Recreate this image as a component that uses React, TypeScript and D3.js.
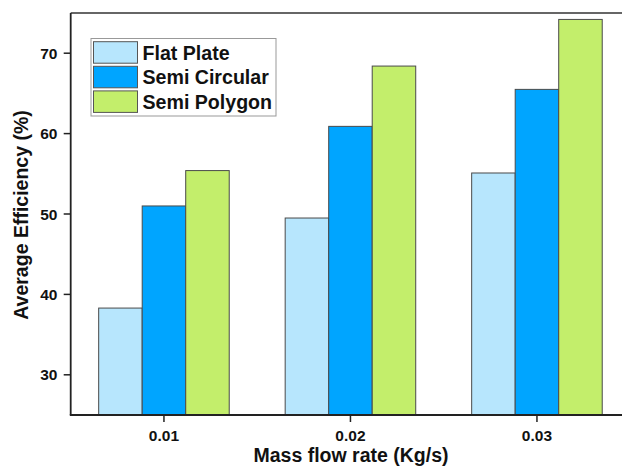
import React from "react";
import * as d3 from "d3";

const categories = ["0.01", "0.02", "0.03"];
const seriesNames = ["Flat Plate", "Semi Circular", "Semi Polygon"];
const flatPlate = [38.3, 49.5, 55.1];
const semiCircular = [51.0, 60.9, 65.5];
const semiPolygon = [55.4, 68.4, 74.2];
const yTicks = [30, 40, 50, 60, 70];
const colors = ["#B7E6FD", "#00A5FF", "#C3EE6B"];

const W = 622;
const H = 467;
const FONT = "'Liberation Sans', Arial, Helvetica, sans-serif";

export default function App() {
  const left = 70.7, right = 630.2, top = 13, bottom = 415;
  const series = [flatPlate, semiCircular, semiPolygon];
  const x = d3.scaleBand<string>().domain(categories).range([left, right]).padding(0);
  const groupW = x.bandwidth() * 0.7;
  const xs = d3.scaleBand<string>().domain(seriesNames).range([0, groupW]).padding(0);
  const y = d3.scaleLinear().domain([25, 75]).range([bottom, top]);

  const legX = 91, legY = 38.5, legW = 185, legH = 77.5;
  const rowH = 24.6;

  return (
    <svg width={W} height={H} style={{ position: "absolute", left: 0, top: 0 }} fontFamily={FONT}>
      <rect x={0} y={0} width={W} height={H} fill="#fff" />
      {/* bars */}
      {categories.map((c, ci) => {
        const gx = (x(c) as number) + x.bandwidth() / 2 - groupW / 2;
        return seriesNames.map((s, si) => {
          const v = series[si][ci];
          return (
            <rect
              key={c + s}
              x={gx + (xs(s) as number)}
              y={y(v)}
              width={xs.bandwidth()}
              height={bottom - y(v)}
              fill={colors[si]}
              stroke="#4a4a4a"
              strokeWidth={1}
            />
          );
        });
      })}
      {/* frame */}
      <line x1={left} x2={right} y1={top} y2={top} stroke="#333" strokeWidth={1.5} />
      <line x1={right} x2={right} y1={top} y2={bottom} stroke="#333" strokeWidth={1.5} />
      <line x1={left} x2={left} y1={top} y2={bottom} stroke="#222" strokeWidth={1.8} />
      <line x1={left - 0.9} x2={right} y1={bottom} y2={bottom} stroke="#222" strokeWidth={1.8} />
      {/* y ticks */}
      {yTicks.map((t) => (
        <g key={t}>
          <line x1={left - 7} x2={left} y1={y(t)} y2={y(t)} stroke="#222" strokeWidth={1.5} />
          <text x={57.5} y={y(t)} dy="0.36em" textAnchor="end" fontSize={15.5} fontWeight="bold" fill="#111">
            {t}
          </text>
        </g>
      ))}
      {/* x ticks */}
      {categories.map((c) => {
        const cx = (x(c) as number) + x.bandwidth() / 2;
        return (
          <g key={c}>
            <line x1={cx} x2={cx} y1={bottom} y2={bottom + 7} stroke="#222" strokeWidth={1.5} />
            <text x={cx} y={441} textAnchor="middle" fontSize={15.5} fontWeight="bold" fill="#111">
              {c}
            </text>
          </g>
        );
      })}
      {/* axis titles */}
      <text x={351} y={462} textAnchor="middle" fontSize={19.5} fontWeight="bold" fill="#111">
        Mass flow rate (Kg/s)
      </text>
      <text
        transform={`translate(27.5,215) rotate(-90)`}
        textAnchor="middle"
        fontSize={19.5}
        fontWeight="bold"
        fill="#111"
      >
        Average Efficiency (%)
      </text>
      {/* legend */}
      <rect x={legX} y={legY} width={legW} height={legH} fill="#fff" stroke="#999" strokeWidth={1} />
      {seriesNames.map((s, i) => (
        <g key={s}>
          <rect
            x={93.5}
            y={41.7 + i * rowH}
            width={44}
            height={21.5}
            fill={colors[i]}
            stroke="#555"
            strokeWidth={1}
          />
          <text x={142.5} y={41.7 + i * rowH + 17.8} fontSize={19.6} fontWeight="bold" fill="#111">
            {s}
          </text>
        </g>
      ))}
    </svg>
  );
}
